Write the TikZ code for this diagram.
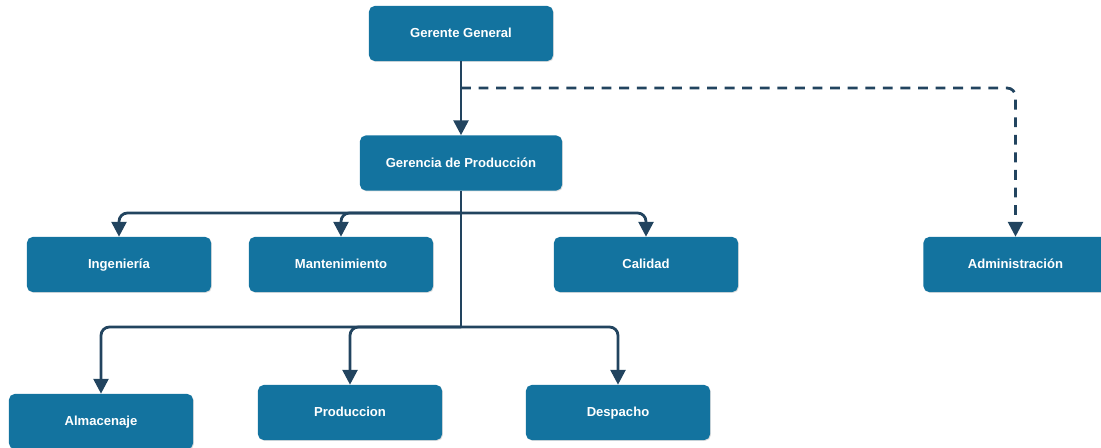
\documentclass[tikz,border=0pt]{standalone}
\usepackage{fontspec}
\setmainfont{Liberation Sans}
\usetikzlibrary{arrows.meta,shadows}
\definecolor{unitblue}{HTML}{13739F}
\definecolor{linknavy}{HTML}{22445F}

\begin{document}
\begin{tikzpicture}[
  x=0.025cm,y=-0.025cm,
  unit/.style={fill=unitblue,rounded corners=4pt,minimum width=4.6cm,minimum height=1.375cm,
    text=white,font=\bfseries\fontsize{9.3}{11}\selectfont,text height=1.5ex,text depth=.4ex,
    drop shadow={opacity=.25,shadow xshift=.6pt,shadow yshift=-.6pt}},
  link/.style={-{Triangle[width=10.5pt,length=10.5pt]},linknavy,line width=2pt,rounded corners=6pt},
  trunk/.style={linknavy,line width=2pt},
  staff/.style={link,dash pattern=on 7pt off 5.5pt}
]
  \useasboundingbox (0,0) rectangle (1101,448);
  % levels
  \node[unit] (gg) at (461,33.5) {Gerente General};
  \node[unit,minimum width=5.05cm] (gp) at (461,163) {Gerencia de Producción};
  \node[unit] (ing) at (119,264.5) {Ingeniería};
  \node[unit] (man) at (341,264.5) {Mantenimiento};
  \node[unit] (cal) at (646,264.5) {Calidad};
  \node[unit] (adm) at (1015.5,264.5) {Administración};
  \node[unit] (alm) at (101,421.5) {Almacenaje};
  \node[unit] (pro) at (350,412.5) {Produccion};
  \node[unit] (des) at (618,412.5) {Despacho};
  % junctions
  \coordinate (staffsplit) at (461,88);
  \coordinate (rowa) at (461,213);
  \coordinate (rowb) at (461,327);
  % connectors
  \draw[link] (gg) -- (gp);
  \draw[staff] (staffsplit) -| (adm);
  \draw[trunk] (gp) -- (rowb);
  \draw[link] (rowa) -| (ing);
  \draw[link] (rowa) -| (man);
  \draw[link] (rowa) -| (cal);
  \draw[link] (rowb) -| (alm);
  \draw[link] (rowb) -| (pro);
  \draw[link] (rowb) -| (des);
\end{tikzpicture}
\end{document}
